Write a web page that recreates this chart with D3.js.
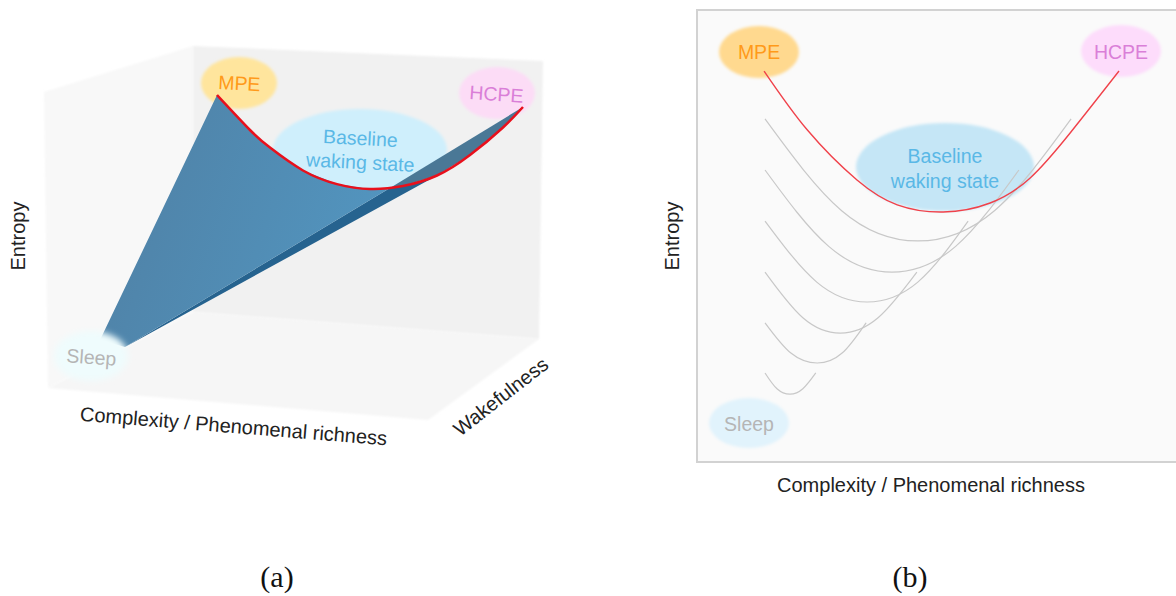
<!DOCTYPE html>
<html>
<head>
<meta charset="utf-8">
<script src="https://cdn.jsdelivr.net/npm/d3@7"></script>
<style>
    body { margin: 0; background: #fff; }
    svg { display: block; }
    text { font-family: "Liberation Sans", Arial, sans-serif; }
</style>
</head>
<body>
<svg id="chart" width="1176" height="596"></svg>
<script>
// panel (b): curves as [complexity, entropy], axes 0-100
const redCurveB = [[14, 86.5], [23, 73.5], [33.4, 62.4], [41.8, 56.9], [51.4, 55.3], [61.2, 57.3], [69.5, 62.8], [77.9, 72.8], [88.1, 86.5]];
const greyCurve1 = [[14.2, 75.9], [30.2, 55.6], [46.1, 48.9], [62.1, 55.6], [78.1, 75.9]];
const greyCurve2 = [[14.2, 64.6], [27.5, 47.7], [40.7, 42], [54, 47.7], [67.2, 64.6]];
const greyCurve3 = [[14.2, 53.3], [25, 39.8], [35.5, 35.4], [46.1, 39.8], [56.6, 53.3]];
const greyCurve4 = [[14.2, 42], [22.1, 31.9], [29.9, 28.5], [37.8, 31.9], [45.9, 42]];
const greyCurve5 = [[14.2, 30.8], [19.6, 24.1], [25.1, 21.9], [30.3, 24.1], [35.3, 30.8]];
const greyCurve6 = [[14.2, 19.7], [16.7, 16.2], [19.4, 15], [22.1, 16.2], [24.8, 19.7]];
const greyCurves = [greyCurve1, greyCurve2, greyCurve3, greyCurve4, greyCurve5, greyCurve6];

// panel (a): the perspective view, in 0-100 picture units
const redCurveA = [[38.75, 82.95], [44.64, 75], [48.21, 71], [54.11, 65.8], [60.18, 62.7], [66.07, 61.59], [71.96, 62.27], [78.04, 64.66], [83.93, 69.32], [89.82, 75.57], [93.39, 80.23]];
const backWall = [[34.46, 94.09], [96.96, 90.68], [96.25, 27.5], [34.46, 33.64]];
const leftWall = [[34.46, 94.09], [7.86, 83.64], [8.57, 16.36], [34.46, 33.64]];
const floorWall = [[8.57, 16.36], [34.46, 33.64], [96.25, 27.5], [76.43, 9.09]];
const sleepTip = [22.32, 25.68];
const sleepTipLeft = [17.86, 27.27];
const creaseMid = [69.64, 61.82];

const svg = d3.select("#chart");
const defs = svg.append("defs");

const blurs = [["faint", 0.8], ["soft", 1.5], ["softer", 3]];
blurs.forEach(([id, dev]) => {
    defs.append("filter").attr("id", id)
        .attr("x", "-20%").attr("y", "-20%").attr("width", "140%").attr("height", "140%")
        .append("feGaussianBlur").attr("stdDeviation", dev);
});

const sheetGrad = defs.append("linearGradient").attr("id", "sheet")
    .attr("x1", "0").attr("y1", "0").attr("x2", "1").attr("y2", "0.3");
sheetGrad.append("stop").attr("offset", "0").attr("stop-color", "#4f7fa3");
sheetGrad.append("stop").attr("offset", "1").attr("stop-color", "#5294be");

// ---------- panel (a)
const ax = d3.scaleLinear().domain([0, 100]).range([0, 560]);
const ay = d3.scaleLinear().domain([0, 100]).range([460, 20]);
const lineA = d3.line().x(d => ax(d[0])).y(d => ay(d[1]));
const curveA = d3.line().x(d => ax(d[0])).y(d => ay(d[1])).curve(d3.curveNatural);

const a = svg.append("g");

a.append("path").attr("d", lineA(leftWall) + "Z").attr("fill", "#f8f8f8").attr("filter", "url(#faint)");
a.append("path").attr("d", lineA(floorWall) + "Z").attr("fill", "#f6f6f6").attr("filter", "url(#faint)");
a.append("path").attr("d", lineA(backWall) + "Z").attr("fill", "#f1f1f1").attr("filter", "url(#faint)");

function blob(g, cx, cy, rx, ry, fill, filter) {
    g.append("ellipse")
        .attr("cx", cx).attr("cy", cy).attr("rx", rx).attr("ry", ry)
        .attr("fill", fill).attr("filter", "url(#" + filter + ")");
}

function label(g, str, x, y, size, fill, angle) {
    return g.append("text")
        .attr("transform", `translate(${x},${y})rotate(${angle || 0})`)
        .attr("text-anchor", "middle")
        .attr("font-size", size)
        .attr("fill", fill)
        .text(str);
}

blob(a, 239, 83, 38, 26, "#ffe59d", "soft");
blob(a, 497, 93, 38, 26, "#fcdcf6", "soft");
blob(a, 360, 150, 87, 41, "#cfeffc", "soft");

// the surface: three sheets meeting at the crease
const lightSheet = redCurveA.slice(0, 6).concat([creaseMid, sleepTip, sleepTipLeft]);
const band = [creaseMid].concat(redCurveA.slice(6, 8), [sleepTip]);
const darkTop = [creaseMid, redCurveA[10]].concat(redCurveA.slice(6, 10).reverse());

a.append("path").attr("d", lineA(band) + "Z").attr("fill", "#26638f");
a.append("path").attr("d", lineA(lightSheet) + "Z").attr("fill", "url(#sheet)");
a.append("path").attr("d", lineA(darkTop) + "Z").attr("fill", "#4a7896");
a.append("path").attr("d", curveA(redCurveA))
    .attr("fill", "none").attr("stroke", "#e8101c").attr("stroke-width", 2.5);

blob(a, 91, 356, 37, 25, "#effcfd", "softer");

label(a, "MPE", 239, 90, 19.5, "#ff9a1a", 3);
label(a, "HCPE", 496, 101, 19.5, "#da7fd8", 4);
label(a, "Baseline", 360, 145, 19.5, "#5ab8e6", 3);
label(a, "waking state", 360, 169, 19.5, "#5ab8e6", 3);
label(a, "Sleep", 91, 364, 19.5, "#b5b5b5", 4);

label(a, "Complexity / Phenomenal richness", 233, 433, 20, "#222", 4.6);
label(a, "Wakefulness", 505, 402, 20, "#222", -38);
label(a, "Entropy", 25, 236, 20, "#222", -90);
label(a, "(a)", 277, 587, 30, "#111").style("font-family", '"Liberation Serif", serif');

// ---------- panel (b)
const bx = d3.scaleLinear().domain([0, 100]).range([697, 1176]);
const by = d3.scaleLinear().domain([0, 100]).range([462, 10]);
const lineB = d3.line().x(d => bx(d[0])).y(d => by(d[1])).curve(d3.curveNatural);

const b = svg.append("g");

// the frame runs off the right edge of the picture
b.append("rect")
    .attr("x", bx(0)).attr("y", by(100))
    .attr("width", bx(101) - bx(0)).attr("height", by(0) - by(100))
    .attr("fill", "#fafafa").attr("stroke", "#d2d2d2").attr("stroke-width", 2);

blob(b, 759, 52, 40, 26, "#ffd98f", "soft");
blob(b, 1121, 51, 40, 26, "#fddcfb", "soft");
blob(b, 945, 167, 89, 44, "#c5e6f6", "soft");
blob(b, 749, 423, 40, 25, "#e1f3fc", "soft");

b.selectAll("path.grey")
    .data(greyCurves)
    .join("path")
        .attr("class", "grey")
        .attr("d", d => lineB(d))
        .attr("fill", "none")
        .attr("stroke", "#c8c8c8")
        .attr("stroke-width", 1.2);

b.append("path").attr("d", lineB(redCurveB))
    .attr("fill", "none").attr("stroke", "#f0414a").attr("stroke-width", 1.4);

label(b, "MPE", 759, 59, 19.5, "#ff9a1a");
label(b, "HCPE", 1121, 59, 19.5, "#da7fd8");
label(b, "Baseline", 945, 163, 19.5, "#5ab8e6");
label(b, "waking state", 945, 188, 19.5, "#5ab8e6");
label(b, "Sleep", 749, 431, 19.5, "#b5b5b5");

label(b, "Complexity / Phenomenal richness", 931, 492, 20, "#222");
label(b, "Entropy", 679, 236, 20, "#222", -90);
label(b, "(b)", 910, 587, 30, "#111").style("font-family", '"Liberation Serif", serif');
</script>
</body>
</html>
